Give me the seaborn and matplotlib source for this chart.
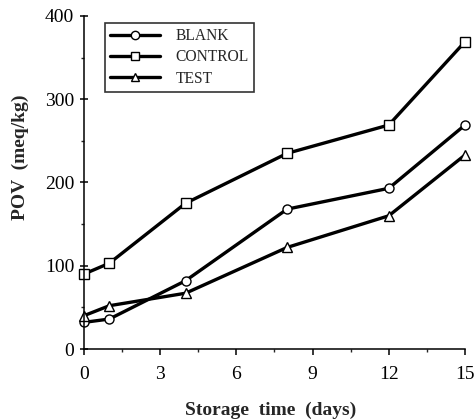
import numpy as np
import pandas as pd
import matplotlib
matplotlib.use("Agg")
import matplotlib.pyplot as plt
from matplotlib.ticker import MultipleLocator
import seaborn as sns

days = [0, 1, 4, 8, 12, 15]
blank = [32, 36, 82, 168, 193, 269]
control = [90, 103, 175, 235, 269, 369]
test = [40, 52, 67, 122, 160, 233]
series = ["BLANK", "CONTROL", "TEST"]

df = pd.DataFrame({
    "day": days * 3,
    "pov": blank + control + test,
    "group": [s for s in series for _ in days],
})

sns.set_style("ticks")
plt.rcParams["font.family"] = ["Liberation Serif", "DejaVu Serif"]

fig = plt.figure(figsize=(4.74, 4.19), dpi=100)
ax = fig.add_axes([0.177, 0.167, 0.804, 0.795])

sns.lineplot(
    data=df, x="day", y="pov", hue="group", style="group",
    palette={s: "black" for s in series},
    markers={"BLANK": "o", "CONTROL": "s", "TEST": "^"},
    dashes=False, linewidth=2.4, markersize=6.5,
    markerfacecolor="white", markeredgecolor="black", markeredgewidth=1.0,
    ax=ax, legend=True,
)

ax.set_xlim(0, 15)
ax.set_ylim(0, 400)
ax.xaxis.set_major_locator(MultipleLocator(3))
ax.xaxis.set_minor_locator(MultipleLocator(1.5))
ax.yaxis.set_major_locator(MultipleLocator(100))
ax.yaxis.set_minor_locator(MultipleLocator(50))
ax.tick_params(which="major", direction="out", length=4, width=1.1, labelsize=14, colors="black")
ax.tick_params(which="minor", direction="out", length=2.5, width=1.0)
ax.tick_params(axis="x", pad=8)
ax.tick_params(axis="y", which="major", direction="inout", length=6, pad=4)
for s in ["top", "right"]:
    ax.spines[s].set_visible(False)
for s in ["left", "bottom"]:
    ax.spines[s].set_linewidth(1.1)
    ax.spines[s].set_color("black")
for l in ax.lines:
    l.set_clip_on(False)

ax.set_xlabel("Storage  time  (days)", fontsize=14, fontweight="bold")
ax.xaxis.set_label_coords(0.49, -0.183)
ax.xaxis.label.set_va("center")
ax.set_ylabel("POV  (meq/kg)", fontsize=14, fontweight="bold")
ax.yaxis.set_label_coords(-0.168, 0.577)
ax.yaxis.label.set_va("center")

leg = ax.legend(loc="upper left", bbox_to_anchor=(0.055, 0.979), borderaxespad=0,
                frameon=True, fancybox=False, edgecolor="black", fontsize=11.2,
                handlelength=3.2, handletextpad=1.0, borderpad=0.35, labelspacing=0.33)
leg.get_frame().set_linewidth(1.2)
leg.get_frame().set_facecolor("white")
for h in leg.legend_handles:
    h.set_linewidth(2.4)
    h.set_markerfacecolor("white")
    h.set_markeredgecolor("black")
    h.set_markersize(6)

fig.savefig("out.png", dpi=100)
